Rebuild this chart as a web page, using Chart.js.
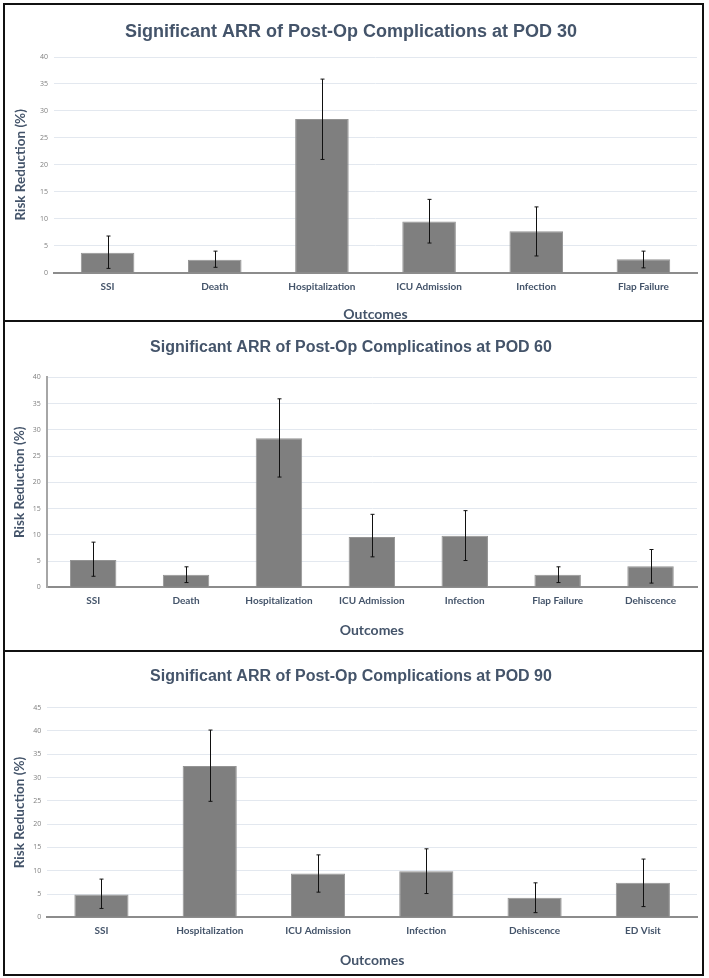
<!DOCTYPE html>
<html>
<head>
<meta charset="utf-8">
<script src="https://cdn.jsdelivr.net/npm/chart.js@4.4.1/dist/chart.umd.min.js"></script>
<style>
  html, body { margin: 0; padding: 0; background: #fff; }
  .panel { position: absolute; left: 3px; width: 701px; border: 2px solid #111; box-sizing: border-box; background: #fff; }
  .panel canvas { position: absolute; left: 0; top: 0; }
</style>
</head>
<body>
<div class="panel" id="p30" style="top:3px;height:319px"><canvas id="c30"></canvas></div>
<div class="panel" id="p60" style="top:320px;height:332px"><canvas id="c60"></canvas></div>
<div class="panel" id="p90" style="top:650px;height:326px"><canvas id="c90"></canvas></div>
<script>
  // POD 30
  const pod30Labels = ['SSI', 'Death', 'Hospitalization', 'ICU Admission', 'Infection', 'Flap Failure'];
  const pod30Values = [3.7, 2.4, 28.5, 9.5, 7.7, 2.5];
  const pod30Low    = [0.8, 1.0, 21.0, 5.5, 3.1, 0.9];
  const pod30High   = [6.8, 4.0, 35.9, 13.6, 12.2, 4.0];

  // POD 60
  const pod60Labels = ['SSI', 'Death', 'Hospitalization', 'ICU Admission', 'Infection', 'Flap Failure', 'Dehiscence'];
  const pod60Values = [5.2, 2.4, 28.4, 9.6, 9.8, 2.4, 4.0];
  const pod60Low    = [2.1, 0.9, 21.0, 5.8, 5.1, 0.9, 0.8];
  const pod60High   = [8.6, 3.9, 35.9, 13.9, 14.6, 3.9, 7.2];

  // POD 90
  const pod90Labels = ['SSI', 'Hospitalization', 'ICU Admission', 'Infection', 'Dehiscence', 'ED Visit'];
  const pod90Values = [4.9, 32.5, 9.4, 9.9, 4.2, 7.4];
  const pod90Low    = [1.9, 24.9, 5.4, 5.1, 1.0, 2.3];
  const pod90High   = [8.2, 40.2, 13.4, 14.7, 7.4, 12.5];

  const yMax30 = 40, yMax60 = 40, yMax90 = 45;

  const navy = '#44546A';

  // draws the error bars from low/high arrays through the scales
  const errorBars = {
    id: 'errorBars',
    afterDatasetsDraw(chart, args, opts) {
      const ctx = chart.ctx;
      const x = chart.scales.x, y = chart.scales.y;
      ctx.save();
      ctx.strokeStyle = '#111';
      ctx.lineWidth = 1;
      opts.low.forEach(function(lo, i) {
        const px = Math.round(x.getPixelForValue(i)) + 0.5;
        const yl = y.getPixelForValue(lo);
        const yh = y.getPixelForValue(opts.high[i]);
        ctx.beginPath();
        ctx.moveTo(px, yl); ctx.lineTo(px, yh);
        ctx.moveTo(px - 2, yl); ctx.lineTo(px + 2, yl);
        ctx.moveTo(px - 2, yh); ctx.lineTo(px + 2, yh);
        ctx.stroke();
      });
      ctx.restore();
    }
  };

  function makeChart(id, lay, title, labels, values, low, high, yMax) {
    const canvas = document.getElementById(id);
    canvas.width = lay.w;
    canvas.height = lay.h;
    return new Chart(canvas, {
      type: 'bar',
      data: {
        labels: labels,
        datasets: [{
          data: values,
          backgroundColor: '#7F7F7F',
          borderColor: '#949494',
          borderWidth: 1,
          barPercentage: 0.5,
          categoryPercentage: 1.0
        }]
      },
      plugins: [errorBars],
      options: {
        responsive: false,
        animation: false,
        devicePixelRatio: 1,
        layout: { padding: { left: 0, right: lay.right, top: 0, bottom: 0 } },
        plugins: {
          legend: { display: false },
          tooltip: { enabled: false },
          title: {
            display: true,
            text: title,
            color: navy,
            font: { family: 'Liberation Sans', weight: 'bold', size: lay.titleSize, lineHeight: 1.2 },
            padding: { top: lay.titleTop, bottom: lay.titleBottom }
          },
          errorBars: { low: low, high: high }
        },
        scales: {
          x: {
            grid: { display: false, drawTicks: false },
            border: { display: true, color: '#8C8C8C', width: 2 },
            ticks: {
              color: navy,
              font: { family: 'Lato', weight: 'bold', size: 10, lineHeight: 1.2 },
              padding: lay.tickPad,
              maxRotation: 0,
              autoSkip: false
            },
            title: {
              display: true,
              text: 'Outcomes',
              color: navy,
              font: { family: 'Lato', weight: 'bold', size: 14, lineHeight: lay.outLH },
              padding: { top: 0, bottom: 0 }
            },
            afterFit: function(scale) { scale.height = lay.xH; }
          },
          y: {
            min: 0,
            max: yMax,
            ticks: {
              stepSize: 5,
              color: '#7F7F7F',
              font: { family: 'Open Sans', size: 7 },
              padding: 6
            },
            grid: { color: '#E3E8EF', lineWidth: 1, drawTicks: false },
            border: { display: lay.yLine, color: '#A6A6A6', width: 2 },
            title: {
              display: true,
              text: 'Risk Reduction (%)',
              color: navy,
              font: { family: 'Lato', weight: 'bold', size: 13.5, lineHeight: 1.2 },
              padding: { top: lay.yTitleTop, bottom: 0 }
            },
            afterFit: function(scale) { scale.width = lay.yW; }
          }
        }
      }
    });
  }

  makeChart('c30',
    { w: 697, h: 315, right: 5, titleSize: 18, titleTop: 16.2, titleBottom: 14.2, tickPad: 8, outLH: 0.857, xH: 47.3, yW: 49, yLine: false, yTitleTop: 7.9 },
    'Significant ARR of Post-Op Complications at POD 30', pod30Labels, pod30Values, pod30Low, pod30High, yMax30);

  makeChart('c60',
    { w: 697, h: 328, right: 5, titleSize: 16, titleTop: 15.7, titleBottom: 20.4, tickPad: 7.4, outLH: 2.857, xH: 62.7, yW: 41.7, yLine: true, yTitleTop: 6.9 },
    'Significant ARR of Post-Op Complicatinos at POD 60', pod60Labels, pod60Values, pod60Low, pod60High, yMax60);

  makeChart('c90',
    { w: 697, h: 322, right: 5, titleSize: 16, titleTop: 15.1, titleBottom: 21.4, tickPad: 7.4, outLH: 2.0, xH: 56.7, yW: 42.3, yLine: false, yTitleTop: 6.9 },
    'Significant ARR of Post-Op Complications at POD 90', pod90Labels, pod90Values, pod90Low, pod90High, yMax90);
</script>
</body>
</html>
